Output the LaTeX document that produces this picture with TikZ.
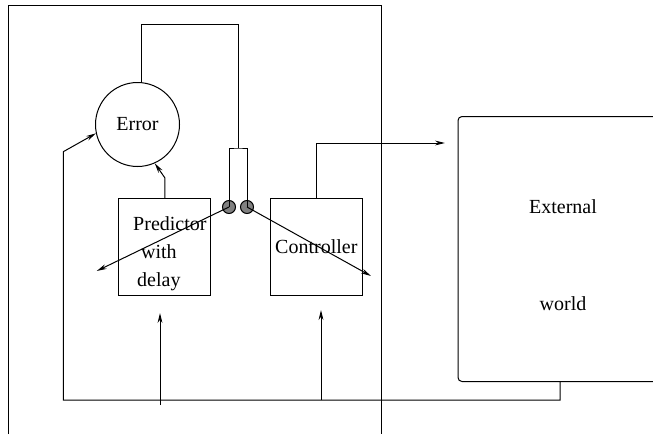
\documentclass[tikz,border=0pt]{standalone}
\usepackage{fontspec}
\setmainfont{Liberation Serif}
\usetikzlibrary{arrows.meta,positioning}

\begin{document}
\begin{tikzpicture}[x=0.5pt,y=-0.5pt,line width=0.5pt,
    arr/.style={-{Stealth[length=5pt,width=2.4pt]}},
    block/.style={draw,rectangle,minimum width=46pt,minimum height=48.3pt,inner sep=0pt,align=center},
    contact/.style={draw,circle,fill=gray,minimum size=6.5pt,inner sep=0pt}]
    \useasboundingbox (0,0) rectangle (653,434);
    \clip (0,0) rectangle (653,434);
    % outer frame
    \draw (8,434) |- (381,5) -- (381,434);
    % blocks
    \node [draw,circle,minimum size=42pt,inner sep=0pt] (err) at (137.5,124.5) {Error};
    \node [block,label={[align=center,xshift=-3pt,yshift=-3.5pt]center:\hspace*{11pt}Predictor\\[2pt]with\\[2pt]delay}] (pred) at (164.9,246.7) {};
    \node [block] (ctrl) at (316.3,246.7) {Controller};
    \node [draw,rectangle,rounded corners=2pt,minimum width=105pt,minimum height=132.5pt,
        label={[align=center,yshift=-3pt]center:External\\[36.5pt]world}] (ext) at (563,249) {};
    \node [contact] (lc) at (229,207) {};
    \node [contact] (rc) at (247,207) {};
    \coordinate (top) at (238,24);
    \coordinate (fork) at (238,148);
    \coordinate (pout) at (96.7,271);
    \coordinate (cout) at (371,276);
    \coordinate (extin) at (445,143);
    \coordinate (bl) at (63.3,400);
    \coordinate (pin) at (160,405);
    \coordinate (pend) at (160,313);
    \coordinate (cin) at (321,400);
    \coordinate (cend) at (321,310);
    % error feedback to the switch
    \draw ([xshift=2pt]err.north) |- (top) -- (fork);
    \draw (lc.center) |- (fork) -| (rc.center);
    \draw [arr] (lc.center) -- (pout);
    \draw [arr] (rc.center) -- (cout);
    % predictor to error
    \draw [arr] (pred.north) -- ++(0,-20) -- (err.-66);
    % controller to external world
    \draw [arr] (ctrl.north) |- (extin);
    % return path
    \draw [arr] ([xshift=-1.5pt]ext.south) |- (bl) -- ++(0,-248.3) -- (err.192.6);
    \draw [arr] (pin) -- (pend);
    \draw [arr] (cin) -- (cend);
\end{tikzpicture}
\end{document}
